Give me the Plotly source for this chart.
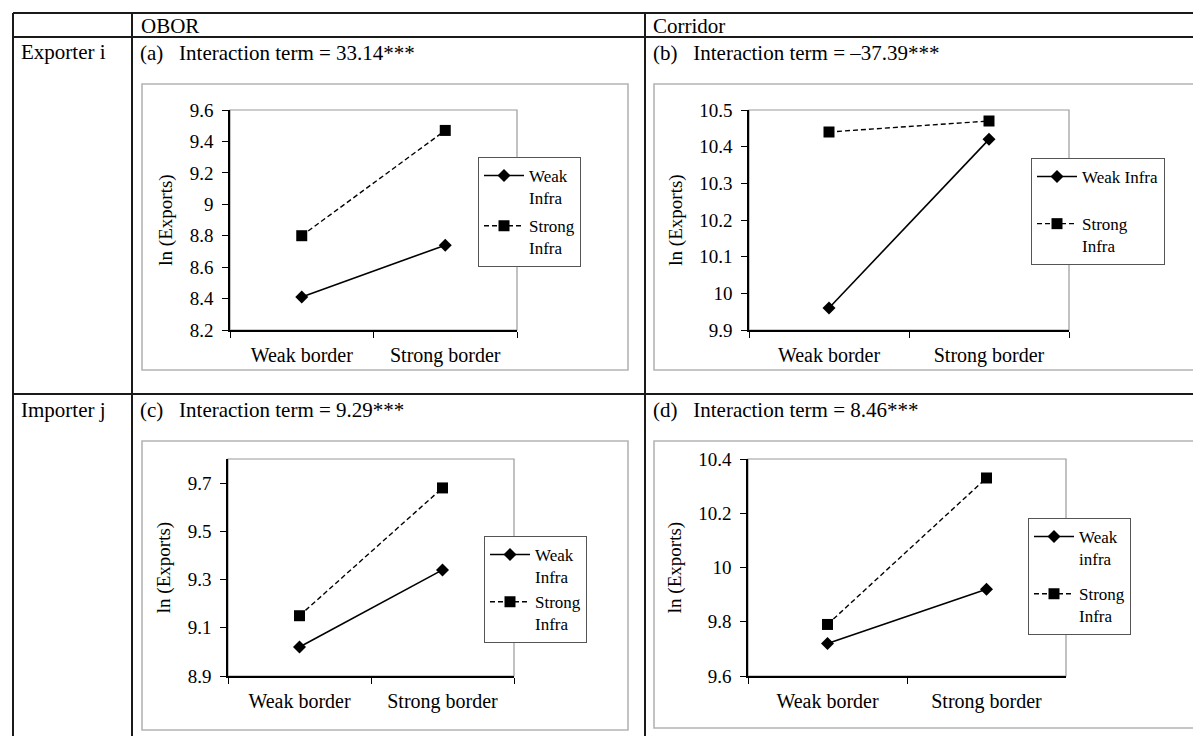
import plotly.graph_objects as go

# ---------------- data ----------------
categories = ["Weak border", "Strong border"]

a_weak = [8.41, 8.74]
a_strong = [8.80, 9.47]
b_weak = [9.96, 10.42]
b_strong = [10.44, 10.47]
c_weak = [9.02, 9.34]
c_strong = [9.15, 9.68]
d_weak = [9.72, 9.92]
d_strong = [9.79, 10.33]

a_names = ["Weak<br>Infra", "Strong<br>Infra"]
b_names = ["Weak Infra", "Strong<br>Infra"]
c_names = ["Weak<br>Infra", "Strong<br>Infra"]
d_names = ["Weak<br>infra", "Strong<br>Infra"]

col_headers = ["OBOR", "Corridor"]
row_headers = ["Exporter i", "Importer j"]
panel_titles = [
    "(a)\u00a0\u00a0\u00a0Interaction term = 33.14***",
    "(b)\u00a0\u00a0\u00a0Interaction term = \u201337.39***",
    "(c)\u00a0\u00a0\u00a0Interaction term = 9.29***",
    "(d)\u00a0\u00a0\u00a0Interaction term = 8.46***",
]

# ---------------- layout helpers ----------------
W, H = 1201, 736
FONT = "'Liberation Serif', 'Times New Roman', Times, 'DejaVu Serif', serif"


def fx(px):
    return px / W


def fy(py):
    return 1 - py / H


fig = go.Figure()

panels = [
    # (weak, strong, names, yrange, tick0, dtick, plot box px (x0,x1,y0,y1), legend px (x,y), gap)
    (a_weak, a_strong, a_names, [8.2, 9.6], 8.2, 0.2, (222, 509, 102, 322), (470, 149), 3),
    (b_weak, b_strong, b_names, [9.9, 10.5], 9.9, 0.1, (741, 1061, 102, 322), (1023, 150), 22),
    (c_weak, c_strong, c_names, [8.9, 9.8], 8.9, 0.2, (220, 506, 451, 668), (476, 528), 0),
    (d_weak, d_strong, d_names, [9.6, 10.4], 9.6, 0.2, (740, 1058, 451, 668), (1020, 510), 10),
]

chart_boxes = [(134, 620, 76, 362), (646, 1193, 76, 362), (134, 620, 433, 722), (646, 1190, 433, 720)]

shapes = []
annotations = []
layout_extra = {}

for i, (weak, strong, names, yr, t0, dt, box, leg, gap) in enumerate(panels):
    k = i + 1
    xa = "x" if k == 1 else f"x{k}"
    ya = "y" if k == 1 else f"y{k}"
    lg = "legend" if k == 1 else f"legend{k}"
    fig.add_trace(go.Scatter(
        x=categories, y=weak, name=names[0], mode="lines+markers",
        line=dict(color="black", width=1.6),
        marker=dict(symbol="diamond", size=10, color="black"),
        xaxis=xa, yaxis=ya, legend=lg, legendgroup=f"w{k}",
    ))
    fig.add_trace(go.Scatter(
        x=categories, y=strong, name=names[1], mode="lines+markers",
        line=dict(color="black", width=1.4, dash="5px,3px"),
        marker=dict(symbol="square", size=11, color="black"),
        xaxis=xa, yaxis=ya, legend=lg, legendgroup=f"s{k}",
    ))
    x0, x1, y0, y1 = box
    xkey = "xaxis" if k == 1 else f"xaxis{k}"
    ykey = "yaxis" if k == 1 else f"yaxis{k}"
    layout_extra[xkey] = dict(
        domain=[fx(x0), fx(x1)], anchor=ya, type="category",
        range=[-0.5, 1.5], showline=True, linecolor="black", linewidth=1.5,
        ticks="outside", tickson="boundaries", ticklen=6, tickcolor="black", tickwidth=1.2,
        showgrid=False, zeroline=False, automargin=False, ticklabelstandoff=6,
        tickfont=dict(family=FONT, size=20, color="black"),
    )
    layout_extra[ykey] = dict(
        domain=[fy(y1), fy(y0)], anchor=xa, range=yr, tickmode="linear", tick0=t0, dtick=dt,
        showline=True, linecolor="black", linewidth=1.5,
        ticks="outside", ticklen=6, tickcolor="black", tickwidth=1.2,
        showgrid=False, zeroline=False, automargin=False, ticklabelstandoff=5,
        tickfont=dict(family=FONT, size=19, color="black"),
        title=dict(text="ln (Exports)", font=dict(family=FONT, size=19, color="black"), standoff=12),
    )
    layout_extra[lg] = dict(
        x=fx(leg[0]), y=fy(leg[1]), xanchor="left", yanchor="top",
        bgcolor="white", bordercolor="#555555", borderwidth=1,
        font=dict(family=FONT, size=17, color="black"),
        valign="top", tracegroupgap=gap, traceorder="grouped", itemwidth=40,
    )
    # plot-area border (gray)
    shapes.append(dict(type="rect", xref=f"{xa} domain", yref=f"{ya} domain",
                       x0=0, x1=1, y0=0, y1=1, line=dict(color="#9a9a9a", width=1.2), layer="below"))

# chart-area boxes
for (x0, x1, y0, y1) in chart_boxes:
    shapes.append(dict(type="rect", xref="paper", yref="paper",
                       x0=fx(x0), x1=fx(x1), y0=fy(y1), y1=fy(y0),
                       line=dict(color="#b4b4b4", width=1.6), layer="below"))

# table lines
tl = dict(color="#1a1a1a", width=2)
for py in [5, 29, 386]:
    shapes.append(dict(type="line", xref="paper", yref="paper",
                       x0=fx(5), x1=fx(1201), y0=fy(py), y1=fy(py), line=tl))
for px in [5, 124, 637]:
    shapes.append(dict(type="line", xref="paper", yref="paper",
                       x0=fx(px), x1=fx(px), y0=fy(5), y1=fy(736), line=tl))

# table texts
tfont = dict(family=FONT, size=21, color="black")
for txt, px, py in [(col_headers[0], 131, 18), (col_headers[1], 643, 18),
                    (row_headers[0], 11, 44), (row_headers[1], 11, 402),
                    (panel_titles[0], 130, 45), (panel_titles[1], 643, 45),
                    (panel_titles[2], 130, 402), (panel_titles[3], 643, 402)]:
    annotations.append(dict(text=txt, x=fx(px), y=fy(py), xref="paper", yref="paper",
                            xanchor="left", yanchor="middle", showarrow=False, font=tfont))

fig.update_layout(
    width=W, height=H, margin=dict(l=0, r=0, t=0, b=0, pad=0),
    paper_bgcolor="white", plot_bgcolor="white",
    font=dict(family=FONT, color="black"),
    shapes=shapes, annotations=annotations, showlegend=True,
    hovermode=False,
    **layout_extra,
)

fig.write_html("out.html")
